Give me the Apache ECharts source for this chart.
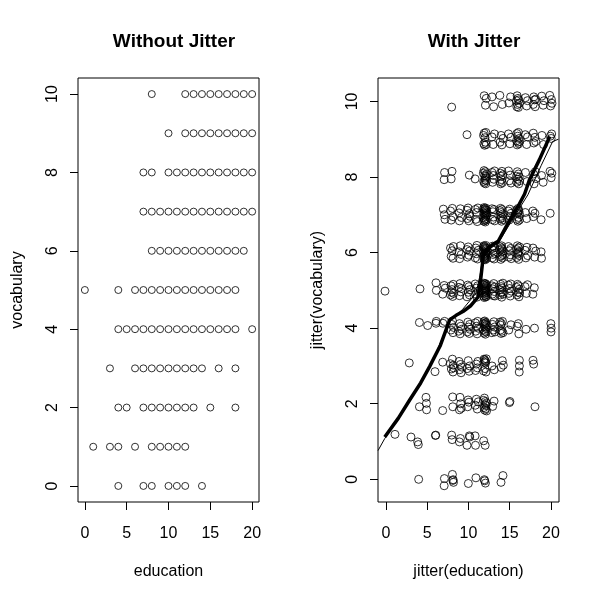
<!DOCTYPE html>
<html>
<head>
<meta charset="utf-8">
<script src="https://cdn.jsdelivr.net/npm/echarts@6/dist/echarts.min.js"></script>
<style>html,body{margin:0;padding:0;background:#fff}#chart{width:600px;height:600px}</style>
</head>
<body>
<div id="chart"></div>
<script>
// ---- Left panel: unique (education, vocabulary) combinations ----
const vocabLevels = [0,1,2,3,4,5,6,7,8,9,10];
const eduAtVocab0  = [4,7,8,10,11,12,14];
const eduAtVocab1  = [1,3,4,6,8,9,10,11,12];
const eduAtVocab2  = [4,5,7,8,9,10,11,12,13,15,18];
const eduAtVocab3  = [3,6,7,8,9,10,11,12,13,14,16,18];
const eduAtVocab4  = [4,5,6,7,8,9,10,11,12,13,14,15,16,17,18,20];
const eduAtVocab5  = [0,4,6,7,8,9,10,11,12,13,14,15,16,17,18];
const eduAtVocab6  = [8,9,10,11,12,13,14,15,16,17,18,19];
const eduAtVocab7  = [7,8,9,10,11,12,13,14,15,16,17,18,19,20];
const eduAtVocab8  = [7,8,10,11,12,13,14,15,16,17,18,19,20];
const eduAtVocab9  = [10,12,13,14,15,16,17,18,19,20];
const eduAtVocab10 = [8,12,13,14,15,16,17,18,19,20];

// ---- Right panel: jittered points [jitter(education), jitter(vocabulary)] ----
const jitRow0 = [[3.96,0.00],[7.08,0.02],[7.05,-0.17],[8.05,0.13],[8.10,-0.03],[8.18,-0.08],[8.14,-0.01],[9.98,-0.11],[10.90,0.04],[11.92,-0.01],[11.96,-0.04],[12.05,-0.10],[13.94,-0.08],[14.18,0.10]];
const jitRow1 = [[1.09,1.19],[3.03,1.12],[3.84,0.99],[3.92,0.92],[5.99,1.16],[6.03,1.17],[7.96,1.17],[8.02,1.05],[8.90,0.99],[9.02,1.08],[9.82,0.90],[10.10,1.15],[10.15,1.12],[10.80,1.15],[10.85,0.90],[11.84,1.02],[12.02,0.90]];
const jitRow2 = [[4.05,1.92],[4.85,2.17],[4.90,2.01],[4.92,1.84],[6.87,1.82],[8.08,2.18],[8.10,1.92],[8.90,1.84],[8.97,2.17],[9.05,2.00],[9.12,1.88],[9.90,1.92],[9.95,2.10],[10.06,2.04],[10.82,1.96],[10.95,2.12],[11.06,1.86],[11.18,2.05],[11.82,2.09],[11.88,1.90],[11.93,2.15],[11.98,1.83],[12.02,1.98],[12.06,2.06],[12.10,1.87],[12.14,1.95],[12.17,2.02],[12.19,1.81],[12.93,1.93],[13.10,2.07],[14.96,2.03],[15.02,2.06],[18.06,1.92]];
const jitRow3 = [[2.82,3.08],[5.94,2.85],[6.87,3.10],[7.80,3.06],[7.92,2.92],[8.05,3.18],[8.12,2.84],[8.15,3.02],[8.20,2.95],[8.85,3.12],[8.92,2.90],[9.03,3.04],[9.10,2.82],[9.18,2.97],[9.85,2.93],[9.97,3.14],[10.08,2.86],[10.15,3.00],[10.85,2.88],[10.95,3.05],[11.08,2.95],[11.14,3.12],[11.82,2.87],[11.88,3.18],[11.92,3.10],[11.95,3.16],[12.00,2.93],[12.04,3.13],[12.08,3.08],[12.12,2.84],[12.16,3.19],[12.85,3.00],[13.12,2.90],[13.95,2.96],[14.10,3.14],[14.22,3.02],[16.17,3.15],[16.17,3.00],[16.15,2.84],[17.82,3.15],[17.90,3.05]];
const jitRow4 = [[4.05,4.15],[5.05,4.07],[6.06,4.13],[6.10,4.18],[6.90,4.13],[7.10,4.18],[7.88,3.95],[7.95,4.10],[8.06,4.19],[8.12,3.88],[8.18,4.02],[8.82,3.92],[8.90,4.12],[8.98,3.85],[9.06,4.05],[9.16,3.97],[9.85,3.90],[9.92,4.16],[10.02,4.03],[10.10,3.86],[10.15,4.10],[10.19,3.97],[10.82,4.14],[10.88,3.92],[10.96,4.05],[11.05,3.85],[11.12,4.18],[11.18,4.00],[11.80,4.12],[11.83,3.96],[11.86,4.17],[11.90,3.87],[11.93,4.05],[11.96,4.19],[11.99,3.92],[12.02,4.10],[12.05,3.84],[12.08,4.02],[12.11,4.15],[12.14,3.90],[12.17,4.08],[12.19,3.98],[12.03,4.13],[12.83,3.88],[12.92,4.10],[13.00,3.95],[13.08,4.17],[13.15,4.03],[13.20,3.90],[13.82,4.16],[13.86,3.95],[13.90,4.08],[13.95,3.86],[14.00,4.12],[14.05,3.92],[14.12,4.18],[14.18,3.88],[15.15,4.09],[14.88,3.95],[15.90,4.05],[16.10,3.85],[16.05,4.12],[16.97,3.97],[18.00,4.00],[19.98,4.12],[20.02,4.00],[20.00,3.90]];
const jitRow5 = [[-0.12,4.98],[4.12,5.04],[6.06,5.20],[6.10,5.00],[6.87,4.90],[7.05,5.13],[7.18,5.06],[7.82,4.88],[7.88,5.12],[7.93,4.95],[8.00,5.02],[8.08,4.84],[8.15,5.16],[8.20,4.92],[8.84,5.08],[8.90,4.86],[8.98,5.18],[9.06,4.96],[9.14,5.05],[9.82,4.83],[9.90,5.14],[9.98,4.95],[10.06,5.10],[10.12,4.88],[10.18,5.02],[10.82,5.17],[10.88,4.90],[10.95,5.06],[11.02,4.82],[11.10,5.12],[11.17,4.97],[11.80,5.15],[11.82,4.85],[11.84,5.03],[11.86,5.19],[11.88,4.93],[11.90,5.08],[11.92,4.81],[11.94,5.13],[11.96,4.98],[11.98,5.17],[12.00,4.87],[12.02,5.05],[12.04,4.92],[12.06,5.18],[12.08,5.00],[12.10,4.84],[12.12,5.11],[12.14,4.95],[12.16,5.07],[12.18,4.89],[12.19,5.15],[12.01,4.97],[12.07,5.02],[12.13,4.83],[12.84,5.12],[12.88,4.90],[12.94,5.04],[13.00,4.86],[13.06,5.18],[13.12,4.97],[13.17,5.09],[13.20,4.85],[13.82,5.02],[13.86,4.88],[13.90,5.16],[13.94,4.94],[13.98,5.10],[14.03,4.82],[14.08,5.06],[14.12,4.96],[14.17,5.19],[14.20,4.90],[14.82,5.14],[14.90,4.92],[14.98,5.05],[15.06,4.85],[15.12,5.17],[15.18,4.98],[15.82,5.08],[15.88,4.88],[15.94,5.16],[16.00,4.95],[16.06,5.12],[16.12,4.83],[16.17,5.03],[16.20,4.93],[16.85,5.10],[17.02,4.92],[17.15,5.15],[17.80,4.90],[17.98,5.07]];
const jitRow6 = [[7.82,6.12],[7.90,5.90],[8.02,6.05],[8.12,5.85],[8.18,6.16],[8.85,6.02],[8.92,5.84],[9.02,6.18],[9.12,5.95],[9.82,6.08],[9.88,5.88],[9.96,6.15],[10.05,5.93],[10.14,6.04],[10.82,5.86],[10.88,6.12],[10.95,5.97],[11.02,6.19],[11.10,5.83],[11.18,6.06],[11.80,6.14],[11.82,5.88],[11.84,6.02],[11.86,6.18],[11.88,5.82],[11.90,5.96],[11.92,6.10],[11.94,5.85],[11.96,6.16],[11.98,5.92],[12.00,6.07],[12.02,5.81],[12.04,6.13],[12.06,5.98],[12.08,6.19],[12.10,5.87],[12.12,6.04],[12.14,5.94],[12.16,6.11],[12.18,5.84],[12.19,6.01],[12.05,5.90],[12.82,6.10],[12.86,5.86],[12.92,6.17],[12.98,5.95],[13.04,6.06],[13.10,5.83],[13.15,6.13],[13.19,5.98],[13.80,6.07],[13.84,5.89],[13.88,6.15],[13.92,5.82],[13.96,6.01],[14.00,6.18],[14.04,5.92],[14.08,6.09],[14.12,5.86],[14.16,6.04],[14.19,5.95],[14.02,6.12],[14.84,6.16],[14.90,5.88],[14.97,6.05],[15.05,5.94],[15.12,6.11],[15.18,5.84],[15.82,6.08],[15.86,5.87],[15.92,6.18],[15.98,5.96],[16.04,6.12],[16.08,5.82],[16.12,6.03],[16.16,5.92],[16.19,6.15],[16.02,6.00],[16.85,6.06],[16.95,5.86],[17.08,6.14],[17.18,5.92],[17.82,6.12],[18.02,5.88],[18.15,6.04],[18.80,6.02],[18.85,5.85]];
const jitRow7 = [[7.07,7.00],[6.95,7.15],[7.15,6.88],[7.82,7.10],[7.90,6.86],[8.04,7.17],[8.14,6.95],[8.85,7.05],[8.90,6.84],[9.02,7.16],[9.14,6.93],[9.82,7.12],[9.88,6.90],[9.95,7.18],[10.04,6.84],[10.12,7.03],[10.18,6.96],[10.82,7.14],[10.88,6.88],[10.96,7.06],[11.06,6.82],[11.14,7.18],[11.80,6.92],[11.82,7.15],[11.84,6.83],[11.86,7.05],[11.88,7.19],[11.90,6.88],[11.92,7.10],[11.94,6.97],[11.96,7.16],[11.98,6.85],[12.00,7.02],[12.02,7.13],[12.04,6.81],[12.06,6.95],[12.08,7.18],[12.10,6.90],[12.12,7.07],[12.14,6.86],[12.16,7.12],[12.18,6.99],[12.19,7.04],[12.84,7.16],[12.90,6.87],[12.96,7.08],[13.03,6.94],[13.10,7.14],[13.17,6.84],[13.81,7.11],[13.85,6.89],[13.89,7.17],[13.93,6.96],[13.97,7.06],[14.01,6.83],[14.06,7.14],[14.10,6.92],[14.15,7.02],[14.19,6.87],[14.84,7.10],[14.92,6.86],[15.00,7.15],[15.08,6.95],[15.16,7.04],[15.82,7.13],[15.86,6.88],[15.92,7.05],[15.97,6.83],[16.02,7.17],[16.07,6.93],[16.12,7.09],[16.16,6.86],[16.19,7.01],[16.05,7.12],[16.88,7.06],[17.05,6.90],[17.80,7.10],[17.85,6.95],[18.05,7.04],[18.80,6.87],[19.90,7.04]];
const jitRow8 = [[7.10,8.12],[7.05,7.93],[8.00,8.15],[7.90,7.95],[10.10,8.05],[10.80,7.95],[11.80,8.10],[11.84,7.88],[11.88,8.17],[11.92,7.84],[11.96,8.04],[12.00,7.92],[12.04,8.14],[12.08,7.82],[12.12,8.02],[12.16,7.90],[12.19,8.08],[12.02,7.97],[12.85,8.12],[12.92,7.86],[13.00,8.04],[13.08,7.94],[13.16,8.16],[13.82,7.88],[13.86,8.10],[13.90,7.82],[13.95,8.02],[14.00,7.93],[14.05,8.15],[14.10,7.85],[14.16,8.06],[14.85,8.16],[14.95,7.90],[15.05,8.05],[15.15,7.84],[15.82,8.02],[15.86,7.86],[15.92,8.14],[15.98,7.94],[16.04,8.08],[16.10,7.82],[16.15,8.00],[16.19,7.90],[16.90,8.12],[17.10,7.88],[17.88,8.08],[17.95,7.82],[18.10,8.14],[18.18,7.96],[18.85,8.04],[19.05,7.86],[19.88,8.15],[20.02,7.98],[20.10,8.10]];
const jitRow9 = [[9.82,9.12],[11.82,9.10],[11.86,8.88],[11.90,9.16],[11.95,8.84],[12.00,9.04],[12.05,8.92],[12.10,9.18],[12.16,8.86],[12.85,9.06],[13.00,8.86],[13.15,9.14],[13.82,8.92],[13.95,9.10],[14.05,8.85],[14.18,9.02],[14.85,9.14],[15.02,8.88],[15.15,9.05],[15.82,8.96],[15.86,9.15],[15.90,8.85],[15.95,9.08],[16.00,8.92],[16.05,9.18],[16.10,8.88],[16.15,9.02],[16.19,8.94],[16.88,9.12],[17.05,8.86],[17.15,9.06],[17.85,9.16],[17.92,8.90],[18.05,9.05],[18.15,8.94],[18.90,9.10],[19.10,8.86],[19.92,9.08],[20.02,9.02],[20.08,9.14]];
const jitRow10 = [[7.96,9.85],[11.90,10.15],[12.05,9.90],[12.15,10.08],[12.85,10.12],[13.05,9.86],[13.80,10.16],[14.10,9.92],[14.90,9.96],[15.10,10.12],[15.82,10.02],[15.86,9.86],[15.90,10.15],[15.95,9.92],[16.00,10.08],[16.05,9.84],[16.10,10.04],[16.16,9.95],[16.90,10.10],[17.05,9.88],[17.15,10.02],[17.85,9.92],[17.92,10.12],[18.00,10.04],[18.08,9.86],[18.15,10.06],[18.88,10.14],[19.05,9.90],[19.15,10.02],[19.85,10.16],[19.95,9.88],[20.05,10.05],[20.12,9.95]];

// ---- Smooth (lowess) curves ----
const smoothThickX = [-0.15, 1.5, 2.87, 4.2, 5.3, 6.6, 7.72, 8.5, 9.33, 10.3, 11.15, 11.5, 11.8, 12.2, 12.95, 13.6, 14.4, 15.3, 16.0, 16.8, 17.4, 18.6, 19.85];
const smoothThickY = [1.12, 1.62, 2.10, 2.55, 2.99, 3.55, 4.22, 4.34, 4.44, 4.60, 4.82, 5.33, 5.92, 6.08, 6.22, 6.30, 6.62, 6.98, 7.22, 7.55, 7.93, 8.46, 9.07];
const smoothThinX = [-0.97, -0.15, 2.9, 5.3, 7.75, 9.3, 10.9, 11.4, 11.75, 12.3, 13.6, 15.4, 16.4, 17.2, 18.8, 20.2, 20.9];
const smoothThinY = [0.76, 1.08, 2.08, 2.96, 4.20, 4.50, 4.92, 5.40, 5.90, 6.06, 6.25, 6.90, 7.25, 7.53, 8.30, 8.94, 9.00];

// ---- Tick labels ----
const xTicks = [0, 5, 10, 15, 20];
const yTicks = [0, 2, 4, 6, 8, 10];

const eduRows = [eduAtVocab0, eduAtVocab1, eduAtVocab2, eduAtVocab3, eduAtVocab4, eduAtVocab5,
                 eduAtVocab6, eduAtVocab7, eduAtVocab8, eduAtVocab9, eduAtVocab10];
const leftData = [];
vocabLevels.forEach((v, i) => eduRows[i].forEach(e => leftData.push([e, v])));
const rightData = [].concat(jitRow0, jitRow1, jitRow2, jitRow3, jitRow4, jitRow5,
                            jitRow6, jitRow7, jitRow8, jitRow9, jitRow10);
const thick = smoothThickX.map((x, i) => [x, smoothThickY[i]]);
const thin = smoothThinX.map((x, i) => [x, smoothThinY[i]]);

const FONT = "'Liberation Sans', Arial, sans-serif";
const chart = echarts.init(document.getElementById('chart'), null, {renderer: 'canvas'});

function xAxisDef(gi, min, max, name) {
  return {
    type: 'value', gridIndex: gi, min: min, max: max, position: 'bottom',
    splitLine: {show: false},
    axisLine: {show: false, onZero: false},
    axisTick: {show: true, inside: false, length: 8, customValues: xTicks, lineStyle: {color: '#000', width: 1}},
    axisLabel: {customValues: xTicks, color: '#000', fontSize: 16, fontFamily: FONT, margin: 24},
    name: name, nameLocation: 'middle', nameGap: 62,
    nameTextStyle: {color: '#000', fontSize: 16, fontFamily: FONT}
  };
}
function yAxisDef(gi, min, max, name) {
  return {
    type: 'value', gridIndex: gi, min: min, max: max, position: 'left',
    splitLine: {show: false},
    axisLine: {show: false, onZero: false},
    axisTick: {show: true, inside: false, length: 8, customValues: yTicks, lineStyle: {color: '#000', width: 1}},
    axisLabel: {customValues: yTicks, color: '#000', fontSize: 16, fontFamily: FONT, margin: 17, rotate: 90},
    name: name, nameLocation: 'middle', nameGap: 52,
    nameTextStyle: {color: '#000', fontSize: 16, fontFamily: FONT}
  };
}

const circleStyle = {color: 'rgba(0,0,0,0)', borderColor: '#000', borderWidth: 1};

chart.setOption({
  backgroundColor: '#fff',
  animation: false,
  title: [
    {text: 'Without Jitter', left: 169, top: 27, textAlign: 'center',
     textStyle: {fontSize: 19, fontWeight: 'bold', color: '#000', fontFamily: FONT}},
    {text: 'With Jitter', left: 469, top: 27, textAlign: 'center',
     textStyle: {fontSize: 19, fontWeight: 'bold', color: '#000', fontFamily: FONT}}
  ],
  grid: [
    {left: 78, top: 78, width: 181, height: 424, show: true, borderColor: '#000', borderWidth: 1, backgroundColor: 'transparent'},
    {left: 378, top: 78, width: 181, height: 424, show: true, borderColor: '#000', borderWidth: 1, backgroundColor: 'transparent'}
  ],
  xAxis: [
    xAxisDef(0, -0.82, 20.82, 'education'),
    xAxisDef(1, -0.97, 20.97, 'jitter(education)')
  ],
  yAxis: [
    yAxisDef(0, -0.41, 10.41, 'vocabulary'),
    yAxisDef(1, -0.6, 10.62, 'jitter(vocabulary)')
  ],
  series: [
    {type: 'scatter', xAxisIndex: 0, yAxisIndex: 0, data: leftData, symbol: 'circle', symbolSize: 7,
     itemStyle: circleStyle, silent: true},
    {type: 'scatter', xAxisIndex: 1, yAxisIndex: 1, data: rightData, symbol: 'circle', symbolSize: 8,
     itemStyle: circleStyle, silent: true, large: false},
    {type: 'line', xAxisIndex: 1, yAxisIndex: 1, data: thin, showSymbol: false, symbol: 'none',
     lineStyle: {color: '#000', width: 1}, silent: true, z: 3},
    {type: 'line', xAxisIndex: 1, yAxisIndex: 1, data: thick, showSymbol: false, symbol: 'none',
     lineStyle: {color: '#000', width: 3.5}, silent: true, z: 4}
  ]
});
</script>
</body>
</html>
